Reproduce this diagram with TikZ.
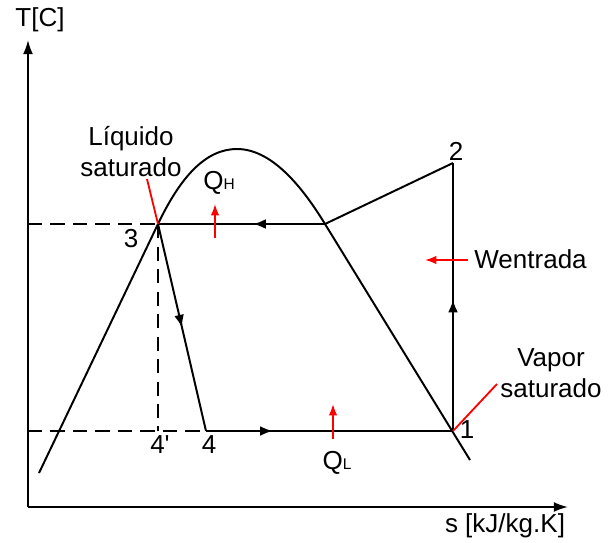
\documentclass[tikz,border=0pt]{standalone}
\usepackage{fontspec}
\setmainfont{Liberation Sans}
\usetikzlibrary{arrows.meta,decorations.markings}
\tikzset{
  midarrow/.style={postaction={decorate},decoration={markings,mark=at position #1 with {\arrow{Latex[length=9pt,width=7pt]}}}},
  heat/.style={red,line width=1.3pt,-{Latex[length=8pt,width=6pt]}},
  guide/.style={dash pattern=on 10pt off 6pt},
  lead/.style={red,line width=1.3pt},
}
\newcommand{\subsm}[1]{{\fontsize{11}{11}\selectfont #1}}
\begin{document}
\begin{tikzpicture}[x=0.025cm,y=-0.025cm,line width=1.4pt,every node/.style={font=\fontsize{18.5}{22}\selectfont,inner sep=1pt}]
\useasboundingbox (0,0) rectangle (608,542);
% axes
\coordinate (o) at (28,507);
\coordinate (ty) at (28,40);
\coordinate (sx) at (568,507);
\draw[-{Latex[length=10pt,width=7pt]}] (o) -- (ty);
\draw[-{Latex[length=10pt,width=7pt]}] (o) -- (sx);
\node (tlab) at (40,20) {T[C]};
\node (slab) at (505,526) {s [kJ/kg.K]};
% cycle points
\coordinate (p1) at (453,431);
\coordinate (p2) at (453,163);
\coordinate (p3) at (158,224);
\coordinate (p4) at (206,431);
\coordinate (p4p) at (158,431);
\coordinate (pv) at (325,224);
\coordinate (t3) at (28,224);
\coordinate (t4) at (28,431);
% dome
\draw (39,473) -- (p3) .. controls (180,178) and (205,149) .. (237,149)
  .. controls (270,149) and (300,183) .. (pv) -- (470,460);
% guides
\draw[guide] (t3) -- (p3) (p3) -- (p4p) (t4) -- (p4);
% cycle
\draw (p2) -- (pv);
\draw[midarrow=0.43] (pv) -- (p3);
\draw[midarrow=0.5] (p3) -- (p4);
\draw[midarrow=0.27] (p4) -- (p1);
\draw[midarrow=0.49] (p1) -- (p2);
% point labels
\node (n1) at (467,430) {1};
\node (n2) at (456,151) {2};
\node (n3) at (131,239) {3};
\node (n4p) at (160,445) {4\textquotesingle};
\node (n4) at (209,445) {4};
% heat and work
\coordinate (qh0) at (215,238);
\coordinate (qh1) at (215,204);
\draw[heat] (qh0) -- (qh1);
\node (qh) at (219,183) {Q\subsm{H}};
\coordinate (ql0) at (333,439);
\coordinate (ql1) at (333,404);
\draw[heat] (ql0) -- (ql1);
\node (ql) at (337,463) {Q\subsm{L}};
\coordinate (w0) at (468,260);
\coordinate (w1) at (425,260);
\draw[heat] (w0) -- (w1);
\node[anchor=west] (wlab) at (472,259) {Wentrada};
% saturation labels
\node[align=center] (liq) at (131,152) {Líquido\\saturado};
\coordinate (liqpt) at (147,179);
\draw[lead] (liqpt) -- (p3);
\node[align=center] (vap) at (551,373) {Vapor\\saturado};
\coordinate (vappt) at (497,384);
\draw[lead] (p1) -- (vappt);
\end{tikzpicture}
\end{document}
